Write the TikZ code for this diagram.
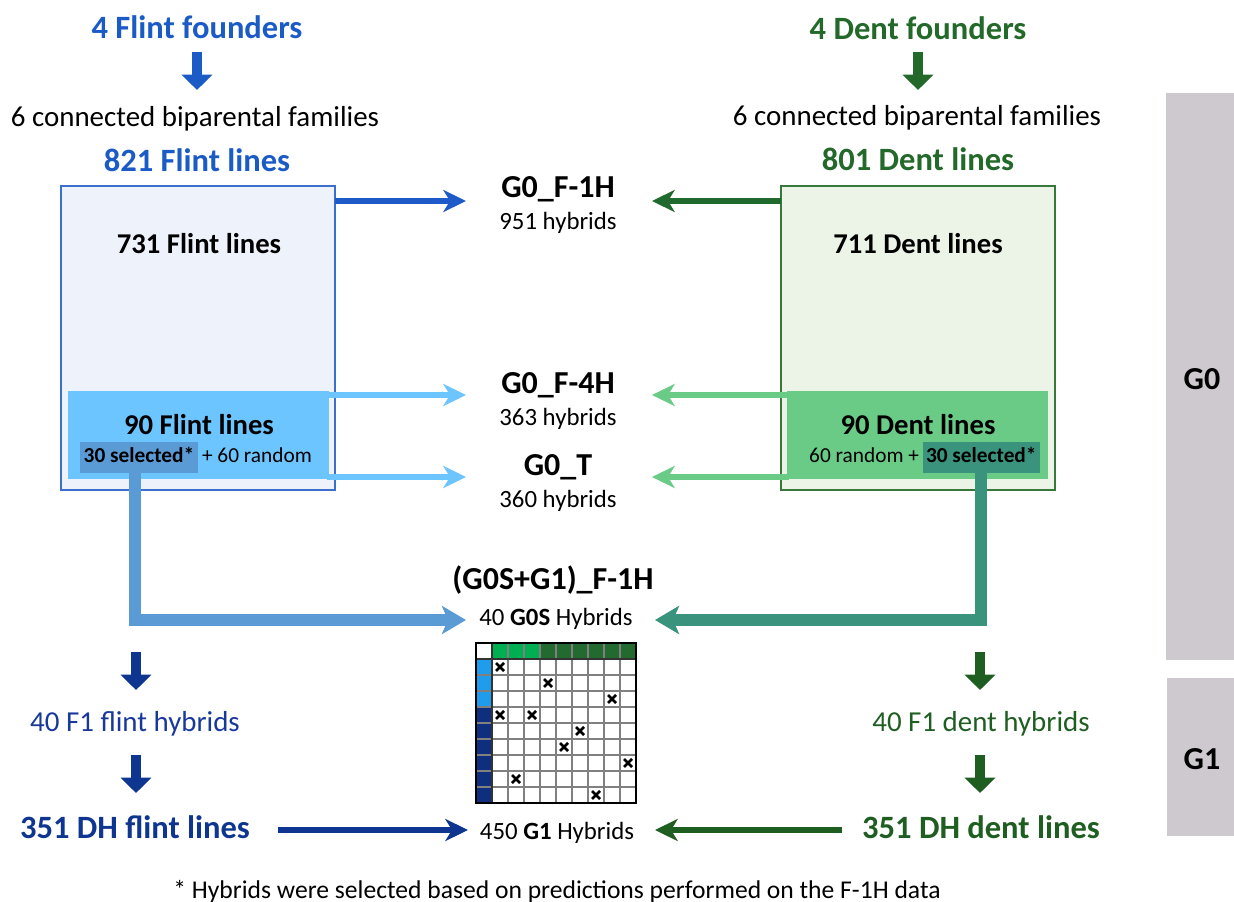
\documentclass[tikz,border=0pt]{standalone}
\usepackage{fontspec}
\setmainfont{Carlito}
\usetikzlibrary{arrows.meta,fit,calc}
\definecolor{fblue}{HTML}{1B5BC6}
\definecolor{fgreen}{HTML}{23692A}
\definecolor{lboxfill}{HTML}{EEF3FB}
\definecolor{lboxdraw}{HTML}{3B6FCB}
\definecolor{linner}{HTML}{6CC5FF}
\definecolor{lsel}{HTML}{5B9BD5}
\definecolor{rboxfill}{HTML}{EBF4E7}
\definecolor{rboxdraw}{HTML}{38783A}
\definecolor{rinner}{HTML}{69CB86}
\definecolor{rsel}{HTML}{3A937C}
\definecolor{topblue}{HTML}{1F5BC8}
\definecolor{topgreen}{HTML}{1F6A2C}
\definecolor{navy}{HTML}{0E3590}
\definecolor{navytext}{HTML}{17399A}
\definecolor{dgreen}{HTML}{1F5E21}
\definecolor{mlgreen}{HTML}{00B050}
\definecolor{mdgreen}{HTML}{226A2D}
\definecolor{mlblue}{HTML}{1F9CEB}
\definecolor{mnavy}{HTML}{0D2F7E}
\definecolor{barcol}{HTML}{CEC8CF}
\newcommand\fsz[1]{\fontsize{#1}{#1}\selectfont}
\begin{document}
\begin{tikzpicture}[x=0.75pt,y=-0.75pt,
  every node/.style={inner sep=0pt, outer sep=0pt},
  title/.style={anchor=base, font=\fsz{24.4}\bfseries},
  famtext/.style={anchor=base, font=\fsz{21.7}},
  boxtitle/.style={anchor=base, font=\fsz{21.5}\bfseries},
  hybtitle/.style={anchor=base, font=\fsz{24}\bfseries},
  hybsub/.style={anchor=base, font=\fsz{18.6}},
  smalltext/.style={anchor=base, font=\fsz{16}},
  hbar/.style={line width=4.5pt, -{Stealth[length=17pt, width=16.5pt, inset=5pt]}},
  selconn/.style={line width=9pt, -{Stealth[length=18pt, width=21pt, inset=4.5pt]}},
  blockdown/.style={line width=7.5pt, -{Triangle[length=11.5pt, width=22.5pt]}},
  genlabel/.style={anchor=base, font=\fsz{24}\bfseries}
]
\useasboundingbox (0,0) rectangle (1234,902);

% generation bars
\node[fit={(1166,93)(1234,660)}, fill=barcol] (g0bar) {};
\node[fit={(1167,678)(1234,836)}, fill=barcol] (g1bar) {};
\node[genlabel] (g0lab) at (1202,389) {G0};
\node[genlabel] (g1lab) at (1202,769) {G1};

% ---------- Flint side ----------
\node[title, text=fblue] (ffound) at (197,39) {4 Flint founders};
\node[famtext] (ffam) at (195,127) {6 connected biparental families};
\node[title, text=fblue] (f821) at (197,172) {821 Flint lines};
\coordinate (fa1) at (197,52);
\coordinate (fa2) at (197,90);
\draw[blockdown, fblue] (fa1) -- (fa2);

\node[fit={(61,186)(335,490)}, fill=lboxfill, draw=lboxdraw, line width=1.2pt] (lbox) {};
\node[boxtitle] (f731) at (199,253) {731 Flint lines};
\node[fit={(68,391)(329,479)}, fill=linner] (linnerbox) {};
\node[boxtitle] (f90) at (199,434) {90 Flint lines};
\node[fit={(80,442)(198,473)}, fill=lsel] (lselbox) {};
\node[smalltext, font=\fsz{16}\bfseries] (lseltext) at (139,462) {30 selected*};
\node[smalltext, anchor=base west] (lrand) at (202,462) {+ 60 random};

% ---------- Dent side ----------
\node[title, text=fgreen] (dfound) at (918,40) {4 Dent founders};
\node[famtext] (dfam) at (917,126) {6 connected biparental families};
\node[title, text=fgreen] (d801) at (918,171) {801 Dent lines};
\coordinate (da1) at (918,52);
\coordinate (da2) at (918,90);
\draw[blockdown, fgreen] (da1) -- (da2);

\node[fit={(781,186)(1055,490)}, fill=rboxfill, draw=rboxdraw, line width=1.2pt] (rbox) {};
\node[boxtitle] (d711) at (918,253) {711 Dent lines};
\node[fit={(787,391)(1048,479)}, fill=rinner] (rinnerbox) {};
\node[boxtitle] (d90) at (918,434) {90 Dent lines};
\node[fit={(923,442)(1040,473)}, fill=rsel] (rselbox) {};
\node[smalltext, anchor=base east] (rrand) at (919,462) {60 random +};
\node[smalltext, font=\fsz{16}\bfseries, anchor=base west] (rseltext) at (926,462) {30 selected*};

% ---------- centre hybrids ----------
\node[hybtitle] (h1) at (558,198) {G0\_F-1H};
\node[hybsub] (h1n) at (558,230) {951 hybrids};
\node[hybtitle] (h4) at (558,393) {G0\_F-4H};
\node[hybsub] (h4n) at (558,425) {363 hybrids};
\node[hybtitle] (ht) at (558,475) {G0\_T};
\node[hybsub] (htn) at (558,507) {360 hybrids};
\node[hybtitle] (hs) at (553,589) {(G0S+G1)\_F-1H};
\node[hybsub] (hsn) at (556,625) {40 \textbf{G0S} Hybrids};
\node[hybsub] (hg1) at (557,839) {450 \textbf{G1} Hybrids};

% horizontal arrows
\coordinate (lt1) at (335,201);   \coordinate (lt1e) at (466,201);
\coordinate (rt1) at (781,201);   \coordinate (rt1e) at (652,201);
\draw[hbar, topblue] (lt1) -- (lt1e);
\draw[hbar, topgreen] (rt1) -- (rt1e);
\coordinate (l4) at (327,395);   \coordinate (l4e) at (466,395);
\coordinate (lT) at (327,477);   \coordinate (lTe) at (466,477);
\coordinate (r4) at (789,395);   \coordinate (r4e) at (652,395);
\coordinate (rT) at (789,477);   \coordinate (rTe) at (652,477);
\draw[hbar, linner] (l4) -- (l4e);
\draw[hbar, linner] (lT) -- (lTe);
\draw[hbar, rinner] (r4) -- (r4e);
\draw[hbar, rinner] (rT) -- (rTe);

% selected connectors
\coordinate (ls) at (135,473); \coordinate (lse) at (466,620);
\coordinate (rs) at (980.5,473); \coordinate (rse) at (655,620);
\draw[selconn, lsel] (ls) |- (lse);
\draw[selconn, rsel] (rs) |- (rse);

% ---------- matrix ----------
\fill[white] (476,643) rectangle (636,803);
\fill[mlgreen] (492,643) rectangle (540,659);
\fill[mdgreen] (540,643) rectangle (636,659);
\fill[mlblue] (476,659) rectangle (492,707);
\fill[mnavy] (476,707) rectangle (492,803);
\foreach \i in {2,...,9} {
  \draw[gray, line width=1.1pt] ({476+16*\i},643) -- ({476+16*\i},803);
  \draw[gray, line width=1.1pt] (476,{643+16*\i}) -- (636,{643+16*\i});
}
\draw[black!80, line width=1.1pt] (492,643) -- (492,803);
\draw[black!80, line width=1.1pt] (476,659) -- (636,659);
\draw[black, line width=1.9pt] (476,643) rectangle (636,803);
\foreach \r/\c in {1/1,2/4,3/8,4/1,4/3,5/6,6/5,7/9,8/2,9/7} {
  \draw[black, line width=2pt]
    ({476+16*\c+8-4},{643+16*\r+8-4}) -- ++(8,8)
    ({476+16*\c+8+4},{643+16*\r+8-4}) -- ++(-8,8);
}

% ---------- lower flint ----------
\coordinate (lb1) at (136,652); \coordinate (lb1e) at (136,690);
\coordinate (lb2) at (136,755); \coordinate (lb2e) at (136,793);
\draw[blockdown, navy] (lb1) -- (lb1e);
\node[famtext, text=navytext] (ff1) at (135,731) {40 F1 flint hybrids};
\draw[blockdown, navy] (lb2) -- (lb2e);
\node[title, text=navy] (fdh) at (135,838) {351 DH flint lines};
\coordinate (fdhs) at (278,830); \coordinate (fdhe) at (468,830);
\draw[hbar, navy, line width=5.2pt] (fdhs) -- (fdhe);

% ---------- lower dent ----------
\coordinate (rb1) at (980,652); \coordinate (rb1e) at (980,690);
\coordinate (rb2) at (980,755); \coordinate (rb2e) at (980,793);
\draw[blockdown, dgreen] (rb1) -- (rb1e);
\node[famtext, text=dgreen] (df1) at (981,731) {40 F1 dent hybrids};
\draw[blockdown, dgreen] (rb2) -- (rb2e);
\node[title, text=dgreen] (ddh) at (981,838) {351 DH dent lines};
\coordinate (ddhs) at (842,830); \coordinate (ddhe) at (655,830);
\draw[hbar, dgreen, line width=5.2pt] (ddhs) -- (ddhe);

% footnote
\node[anchor=base, font=\fsz{19.2}] (foot) at (557,898) {* Hybrids were selected based on predictions performed on the F-1H data};
\end{tikzpicture}
\end{document}
